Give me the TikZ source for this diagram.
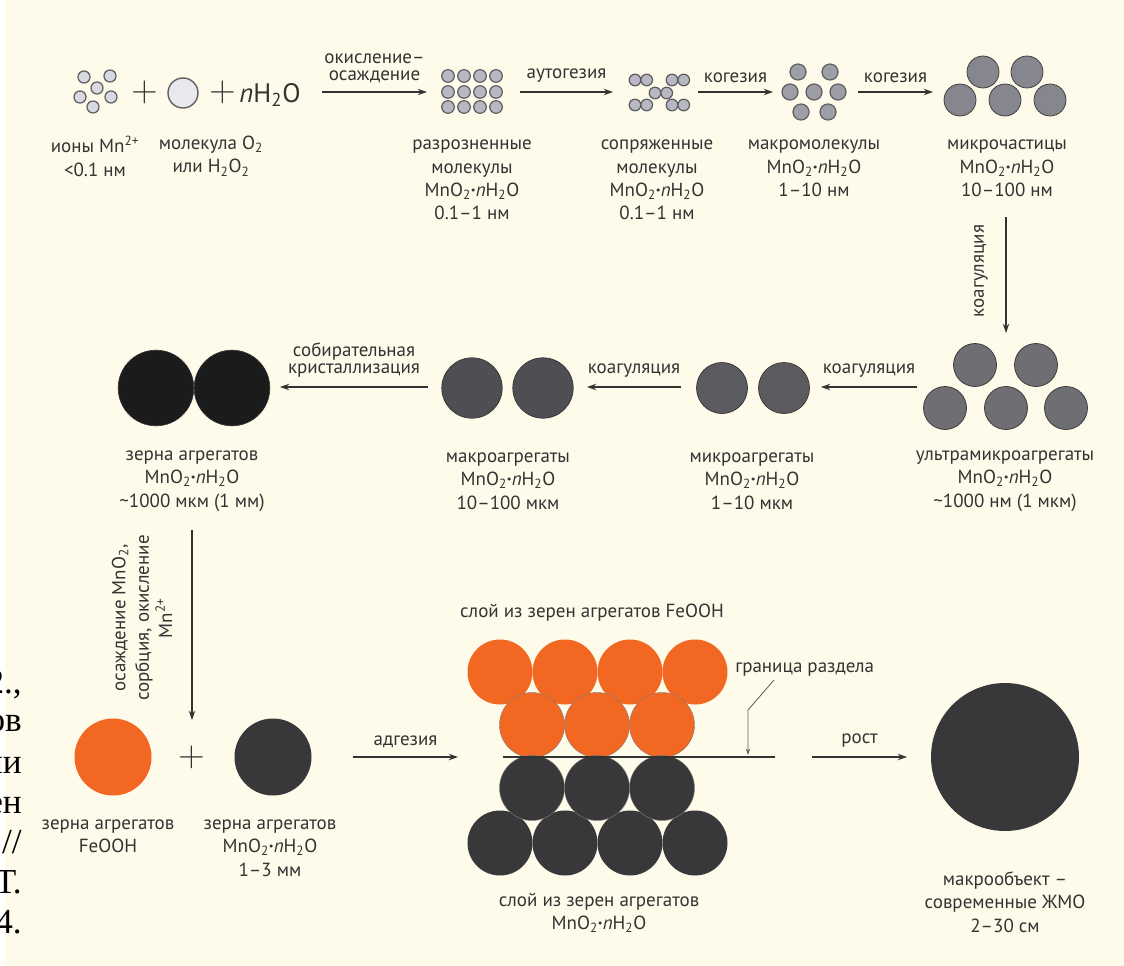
\documentclass[tikz,border=0pt]{standalone}
\usepackage{fontspec}
\setmainfont{PT Sans}
\newfontfamily\cutfont{Liberation Serif}
\usetikzlibrary{arrows.meta,positioning}
\definecolor{paper}{HTML}{FEFBEA}
\definecolor{ink}{HTML}{333333}
\definecolor{rim}{HTML}{606064}
\definecolor{ionfill}{HTML}{D9D9E1}
\definecolor{molfill}{HTML}{B8B8C3}
\definecolor{macfill}{HTML}{9E9EA7}
\definecolor{partfill}{HTML}{86868E}
\definecolor{ultrafill}{HTML}{6E6E73}
\definecolor{microfill}{HTML}{5B5B60}
\definecolor{aggfill}{HTML}{4E4E53}
\definecolor{grainfill}{HTML}{1B1B1C}
\definecolor{mnfill}{HTML}{38383A}
\definecolor{fefill}{HTML}{F26722}
\newcommand{\mno}{MnO\textsubscript{2}\textbf{·}\textit{n}H\textsubscript{2}O}

\begin{document}
\begin{tikzpicture}[x=0.025cm, y=-0.025cm, >={Stealth[length=2.3mm, width=1.6mm]}]
  \tikzstyle{lbl} = [text=ink, align=center, inner sep=0pt, font=\fontsize{13.5}{16.7}\selectfont]
  \tikzstyle{tight} = [lbl, font=\fontsize{13.5}{12.2}\selectfont]
  \tikzstyle{sign} = [text=ink, inner sep=0pt, font=\sffamily\fontsize{26}{28}\selectfont]
  \tikzstyle{formula} = [text=ink, inner sep=0pt, font=\fontsize{19}{22}\selectfont]
  \tikzstyle{arr} = [->, draw=ink, line width=1.3pt]
  \tikzstyle{dot} = [draw=rim, line width=0.9pt]
  \tikzstyle{ball} = [draw=ink, line width=0.5pt]
  \tikzstyle{grain} = [draw=paper!50!black, line width=0.3pt]

  \clip (0,0) rectangle (1124,966);
  \fill[paper] (0,0) rectangle (1124,966);
  \fill[white] (0,0) rectangle (5,966);

  \foreach \t/\y [count=\i] in {{2.,}/693, ов/731, ии/773, ен/813, {//}/853, Т./893, 4./933}
    \node[inner sep=0pt, anchor=base east, font=\cutfont\fontsize{25}{28}\selectfont] (cut\i) at (22,\y) {\t};

  \foreach \p in {(84,77),(110,76),(97,88),(80,97),(111,97),(93,107)}
    \draw[dot, fill=ionfill] \p circle (6);
  \node[sign] (plus1) at (145,92) {+};
  \draw[dot, fill=ionfill!60!white, line width=1pt] (183,93) circle (15);
  \node[sign] (plus2) at (223,92) {+};
  \node[formula] (water) at (270,95) {\textit{n}H\textsubscript{2}O};
  \foreach \x in {448,464,480,496} \foreach \y in {76,92,107}
    \draw[dot, fill=molfill] (\x,\y) circle (6.3);
  \foreach \x/\y in {635/80,672/80,655/93,635/105,672/105}
    \draw[dot, fill=molfill] (\x,\y) circle (5.8) (\x+11.7,\y) circle (5.8);
  \foreach \p in {(798,72),(830,72),(790,92),(814,92),(838,92),(801,112),(828,112)}
    \draw[dot, fill=macfill] \p circle (8);
  \foreach \p in {(983,72),(1027,72),(960,100),(1005,100),(1050,100)}
    \draw[ball, fill=partfill] \p circle (16);

  \node[lbl] (ions) at (95,156) {ионы Mn\textsuperscript{2+}\\<0.1 нм};
  \node[lbl] (oxy) at (211,156) {молекула O\textsubscript{2}\\или H\textsubscript{2}O\textsubscript{2}};
  \node[lbl] (disp) at (472,180) {разрозненные\\молекулы\\\mno\\0.1–1 нм};
  \node[lbl] (conj) at (657,180) {сопряженные\\молекулы\\\mno\\0.1–1 нм};
  \node[lbl] (macro) at (814,168.5) {макромолекулы\\\mno\\1–10 нм};
  \node[lbl] (micro) at (1007,168.5) {микрочастицы\\\mno\\10–100 нм};

  \coordinate (a1) at (322,92); \coordinate (b1) at (427,92);
  \coordinate (a2) at (520,92); \coordinate (b2) at (613,92);
  \coordinate (a3) at (698,92); \coordinate (b3) at (773,92);
  \coordinate (a4) at (858,92); \coordinate (b4) at (933,92);
  \draw[arr] (a1) -- (b1) node[tight, midway, above=6pt] (ox) {окисление–\\осаждение};
  \draw[arr] (a2) -- (b2) node[lbl, midway, above=6pt] (auto) {аутогезия};
  \draw[arr] (a3) -- (b3) node[lbl, midway, above=6pt] (coh1) {когезия};
  \draw[arr] (a4) -- (b4) node[lbl, midway, above=6pt] (coh2) {когезия};

  \coordinate (a5) at (1006,217); \coordinate (b5) at (1006,333);
  \draw[arr] (a5) -- (b5);
  \node[lbl, rotate=90] (coag1) at (981,271) {коагуляция};

  \foreach \p in {(975,365),(1036,365),(945,408),(1006,408),(1066,408)}
    \draw[ball, fill=ultrafill] \p circle (21.5);
  \foreach \p in {(722,388),(784,388)}
    \draw[ball, fill=microfill] \p circle (25.5);
  \foreach \p in {(472,388),(543,388)}
    \draw[ball, fill=aggfill] \p circle (30.2);
  \foreach \p in {(156,388),(232,388)}
    \draw[ball, fill=grainfill] \p circle (37.8);

  \node[lbl] (grains) at (192,481) {зерна агрегатов\\\mno\\\textasciitilde1000 мкм (1 мм)};
  \node[lbl] (macroagg) at (508,481) {макроагрегаты\\\mno\\10–100 мкм};
  \node[lbl] (microagg) at (752,481) {микроагрегаты\\\mno\\1–10 мкм};
  \node[lbl] (ultra) at (1005,481) {ультрамикроагрегаты\\\mno\\\textasciitilde1000 нм (1 мкм)};

  \coordinate (a6) at (917,387); \coordinate (b6) at (821,387);
  \coordinate (a7) at (681,387); \coordinate (b7) at (587,387);
  \coordinate (a8) at (428,387); \coordinate (b8) at (280,387);
  \draw[arr] (a6) -- (b6) node[lbl, midway, above=6pt] (coag2) {коагуляция};
  \draw[arr] (a7) -- (b7) node[lbl, midway, above=6pt] (coag3) {коагуляция};
  \draw[arr] (a8) -- (b8) node[tight, midway, above=6pt] (cryst) {собирательная\\кристаллизация};

  \coordinate (a9) at (192,530); \coordinate (b9) at (192,720);
  \draw[arr] (a9) -- (b9);
  \node[lbl, rotate=90] (sorb) at (142,618) {осаждение MnO\textsubscript{2},\\сорбция, окисление\\Mn\textsuperscript{2+}};

  \fill[fefill] (113,757) circle (38.5);
  \node[sign] (plus3) at (192,757) {+};
  \fill[mnfill] (273,757) circle (38.5);
  \node[lbl] (feg) at (108,836.5) {зерна агрегатов\\FeOOH};
  \node[lbl] (mng) at (270,848) {зерна агрегатов\\\mno\\1–3 мм};

  \foreach \x in {500,565,630,695} {
    \fill[fefill] (\x,672) circle (32.5);
    \fill[mnfill] (\x,843) circle (32.5);}
  \foreach \x in {532,597,662} {
    \draw[grain, fill=fefill] (\x,725) circle (32.5);
    \draw[grain, fill=mnfill] (\x,788) circle (32.5);}
  \coordinate (bl) at (503,757); \coordinate (br) at (775,757);
  \draw[ink, line width=0.9pt] (bl) -- (br);
  \node[lbl] (toplayer) at (592,613) {слой из зерен агрегатов FeOOH};
  \node[lbl] (botlayer) at (599,913) {слой из зерен агрегатов\\\mno};
  \node[lbl, anchor=west] (bnd) at (735,670) {граница раздела};
  \coordinate (bq) at (774,680); \coordinate (bp) at (748,755);
  \draw[->, draw=rim, line width=0.6pt, >={Stealth[length=1.6mm, width=1.1mm]}] (bq) -- ++(-26,30) -- (bp);

  \coordinate (a10) at (353,757); \coordinate (b10) at (458,757);
  \coordinate (a11) at (812,757); \coordinate (b11) at (907,757);
  \draw[arr] (a10) -- (b10) node[lbl, midway, above=6pt] (adh) {адгезия};
  \draw[arr] (a11) -- (b11) node[lbl, midway, above=6pt] (grow) {рост};

  \fill[mnfill] (1005,757) circle (74);
  \node[lbl] (obj) at (1005,902) {макрообъект –\\современные ЖМО\\2–30 см};
\end{tikzpicture}
\end{document}
